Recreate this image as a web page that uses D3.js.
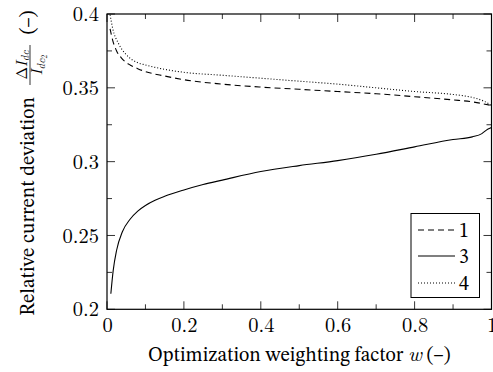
<!DOCTYPE html>
<html>
<head>
<meta charset="utf-8">
<script src="https://cdn.jsdelivr.net/npm/d3@7"></script>
<style>
  html, body { margin: 0; padding: 0; background: #fff; }
  svg { display: block; }
</style>
</head>
<body>
<svg id="chart" width="493" height="372"></svg>
<script>
// ---- data ----
const wValues1 = [0.008, 0.015, 0.025, 0.04, 0.06, 0.08, 0.1, 0.15, 0.2, 0.3, 0.4, 0.5, 0.6, 0.7, 0.8, 0.9, 0.95, 1.0];
const series1  = [0.390, 0.382, 0.375, 0.3695, 0.3655, 0.363, 0.361, 0.358, 0.3555, 0.3525, 0.3505, 0.349, 0.3475, 0.346, 0.344, 0.3418, 0.3405, 0.338];

const wValues3 = [0.01, 0.016, 0.025, 0.04, 0.06, 0.08, 0.1, 0.125, 0.15, 0.2, 0.25, 0.3, 0.4, 0.5, 0.6, 0.7, 0.8, 0.9, 0.95, 0.975, 0.99, 1.0];
const series3  = [0.2105, 0.226, 0.240, 0.2525, 0.261, 0.2665, 0.2703, 0.2738, 0.2765, 0.2808, 0.2845, 0.2875, 0.2933, 0.2973, 0.3007, 0.305, 0.31, 0.315, 0.3168, 0.319, 0.322, 0.3232];

const wValues4 = [0.008, 0.015, 0.03, 0.05, 0.08, 0.1, 0.15, 0.2, 0.3, 0.4, 0.5, 0.6, 0.7, 0.8, 0.9, 0.95, 0.98, 1.0];
const series4  = [0.3995, 0.390, 0.380, 0.3725, 0.367, 0.3655, 0.3625, 0.3605, 0.3585, 0.3565, 0.3545, 0.3525, 0.350, 0.3475, 0.3455, 0.3435, 0.341, 0.338];

const legendLabels = ["1", "3", "4"];
const xTicks = [0, 0.2, 0.4, 0.6, 0.8, 1];
const xMinorTicks = [0.1, 0.3, 0.5, 0.7, 0.9];
const yTicks = [0.2, 0.25, 0.3, 0.35, 0.4];
const yMinorTicks = [0.225, 0.275, 0.325, 0.375];

// ---- layout ----
const TEXTFONT = "'STIX Two Text', 'Latin Modern Roman', serif";
const MATHFONT = "'Latin Modern Roman', 'STIX Two Text', serif";
const svg = d3.select("#chart");
const L = 107, R = 491.5, T = 14, B = 309.3;
const x = d3.scaleLinear().domain([0, 1]).range([L, R]);
const y = d3.scaleLinear().domain([0.2, 0.4]).range([B, T]);

const majorLen = 8, minorLen = 5;
const tickFont = 20.5;
const labelFont = 20;

// ticks inside on all four sides
const tk = svg.append("g").attr("stroke", "#000").attr("stroke-width", 0.8);
function xt(list, len) {
  list.forEach(v => {
    tk.append("line").attr("x1", x(v)).attr("x2", x(v)).attr("y1", B).attr("y2", B - len);
    tk.append("line").attr("x1", x(v)).attr("x2", x(v)).attr("y1", T).attr("y2", T + len);
  });
}
function yt(list, len) {
  list.forEach(v => {
    tk.append("line").attr("y1", y(v)).attr("y2", y(v)).attr("x1", L).attr("x2", L + len);
    tk.append("line").attr("y1", y(v)).attr("y2", y(v)).attr("x1", R).attr("x2", R - len);
  });
}
xt(xTicks, majorLen); xt(xMinorTicks, minorLen);
yt(yTicks, majorLen); yt(yMinorTicks, minorLen);

// tick labels via d3 axes (lines hidden)
const fmtX = d => d === 0 ? "0" : d === 1 ? "1" : String(d);
const gx = svg.append("g").attr("transform", `translate(0,${B})`)
  .call(d3.axisBottom(x).tickValues(xTicks).tickFormat(fmtX).tickSize(0).tickPadding(8));
gx.attr("font-family", MATHFONT).attr("font-size", tickFont);
gx.select(".domain").remove();
gx.selectAll("text").attr("font-family", MATHFONT).attr("font-size", tickFont).attr("fill", "#000").attr("dy", "0.72em");

const gy = svg.append("g").attr("transform", `translate(${L},0)`)
  .call(d3.axisLeft(y).tickValues(yTicks).tickFormat(d => String(d)).tickSize(0).tickPadding(8));
gy.attr("font-family", MATHFONT).attr("font-size", tickFont);
gy.select(".domain").remove();
gy.selectAll("text").attr("font-family", MATHFONT).attr("font-size", tickFont).attr("fill", "#000").attr("dy", "0.32em");

// lines
const line = d3.line().x(d => x(d[0])).y(d => y(d[1])).curve(d3.curveMonotoneX);
const styles = [
  { w: wValues1, v: series1, dash: "6,4" },
  { w: wValues3, v: series3, dash: null },
  { w: wValues4, v: series4, dash: "1,2" }
];
styles.forEach(s => {
  svg.append("path")
    .datum(s.w.map((w, i) => [w, s.v[i]]))
    .attr("d", line)
    .attr("fill", "none")
    .attr("stroke", "#000")
    .attr("stroke-width", 1.1)
    .attr("stroke-dasharray", s.dash);
});

// frame
svg.append("rect").attr("x", L).attr("y", T).attr("width", R - L).attr("height", B - T)
  .attr("fill", "none").attr("stroke", "#000").attr("stroke-width", 1.2);

// legend
const lg = svg.append("g");
lg.append("rect").attr("x", 411).attr("y", 213.5).attr("width", 68.5).attr("height", 84)
  .attr("fill", "#fff").attr("stroke", "#000").attr("stroke-width", 1);
const legY = [230, 256, 283];
legendLabels.forEach((lab, i) => {
  lg.append("line").attr("x1", 418).attr("x2", 455).attr("y1", legY[i]).attr("y2", legY[i])
    .attr("stroke", "#000").attr("stroke-width", 1.1)
    .attr("stroke-dasharray", styles[i].dash);
  lg.append("text").attr("x", 459).attr("y", legY[i]).attr("dy", "0.34em")
    .attr("font-family", TEXTFONT).attr("font-size", 20).text(lab);
});

// x label
const xl = svg.append("text").attr("x", (L + R) / 2).attr("y", 361)
  .attr("text-anchor", "middle").attr("font-family", TEXTFONT).attr("font-size", labelFont);
xl.append("tspan").text("Optimization weighting factor\u00A0");
xl.append("tspan").attr("font-family", MATHFONT).attr("font-style", "italic").attr("font-size", 21).text("w");
xl.append("tspan").text("\u00A0(–)");

// y label (rotated)
const yl = svg.append("g").attr("transform", "rotate(-90)").attr("font-family", TEXTFONT);
yl.append("text").attr("x", -97).attr("y", 34).attr("text-anchor", "end")
  .attr("font-size", labelFont).text("Relative current deviation");
// fraction
const fc = -65;
const num = yl.append("text").attr("x", fc).attr("y", 26.5).attr("text-anchor", "middle")
  .attr("font-family", MATHFONT).attr("font-size", 15);
num.append("tspan").text("Δ");
num.append("tspan").attr("font-style", "italic").text("I");
num.append("tspan").attr("font-style", "italic").attr("font-size", 11).attr("dy", 2.5).text("dc");
yl.append("line").attr("x1", fc - 20).attr("x2", fc + 20).attr("y1", 30).attr("y2", 30)
  .attr("stroke", "#000").attr("stroke-width", 0.8);
const den = yl.append("text").attr("x", fc).attr("y", 42).attr("text-anchor", "middle")
  .attr("font-family", MATHFONT).attr("font-size", 15);
den.append("tspan").attr("font-style", "italic").text("I");
den.append("tspan").attr("font-style", "italic").attr("font-size", 11).attr("dy", 3).text("dc");
den.append("tspan").attr("font-size", 8).attr("dy", 2).text("2");
yl.append("text").attr("x", -22.5).attr("y", 34).attr("text-anchor", "middle")
  .attr("font-size", labelFont).text("(–)");
</script>
</body>
</html>
